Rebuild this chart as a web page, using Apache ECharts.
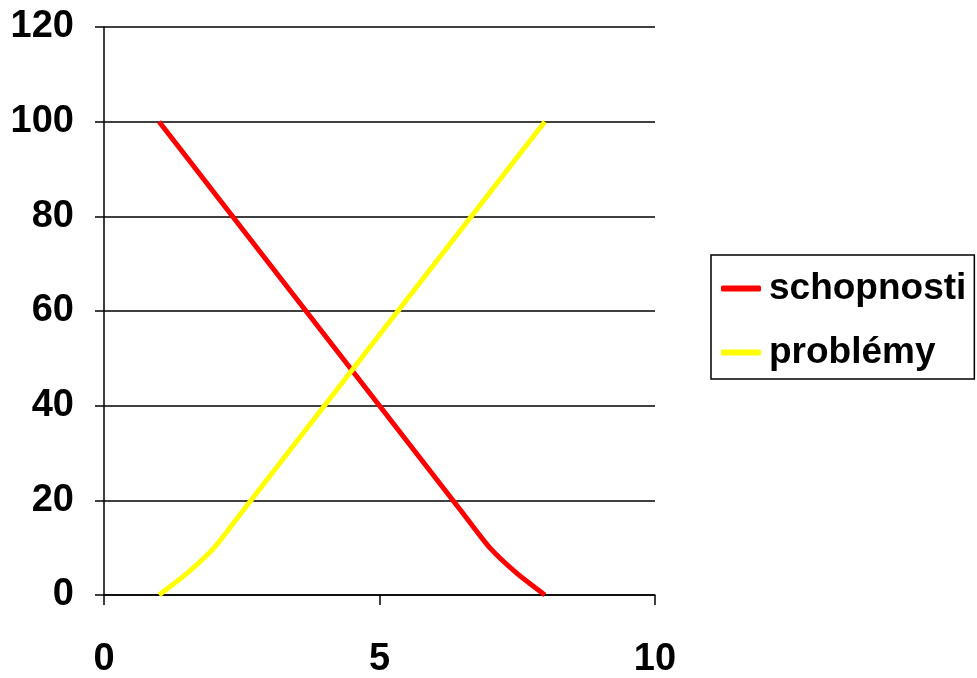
<!DOCTYPE html>
<html>
<head>
<meta charset="utf-8">
<script src="https://cdn.jsdelivr.net/npm/echarts@6/dist/echarts.min.js"></script>
<style>
html,body{margin:0;padding:0;background:#fff;}
#chart{width:977px;height:678px;}
</style>
</head>
<body>
<div id="chart"></div>
<script>
var seriesNames = ['schopnosti', 'problémy'];
var schopnostiX = [1, 2, 3, 4, 5, 6, 6.5, 7, 7.5, 8];
var schopnostiY = [100, 85, 70, 55, 40, 25, 17.5, 10, 4.5, 0];
var problemyX = [1, 1.5, 2, 2.5, 3, 4, 5, 6, 7, 8];
var problemyY = [0, 4.5, 10, 17.5, 25, 40, 55, 70, 85, 100];
var xTicks = [0, 5, 10];
var yTicks = [0, 20, 40, 60, 80, 100, 120];

function pairs(xs, ys) { return xs.map(function (x, i) { return [x, ys[i]]; }); }

var font = '"Liberation Sans", Arial, sans-serif';
var chart = echarts.init(document.getElementById('chart'));
chart.setOption({
  backgroundColor: '#ffffff',
  animation: false,
  grid: { left: 104, right: 322, top: 27, bottom: 83, containLabel: false, outerBoundsMode: 'none' },
  legend: {
    orient: 'vertical',
    left: 711, top: 255,
    padding: [15, 8, 8, 10],
    itemGap: 27,
    itemWidth: 40, itemHeight: 6,
    icon: 'roundRect',
    borderColor: '#000', borderWidth: 1.5,
    textStyle: { fontFamily: font, fontWeight: 'bold', fontSize: 37, color: '#000', padding: [0, 0, 0, 3] },
    data: seriesNames
  },
  xAxis: {
    type: 'value', min: xTicks[0], max: xTicks[xTicks.length - 1], interval: 5,
    axisLine: { show: true, onZero: false, lineStyle: { color: '#000', width: 1.5 } },
    axisTick: { show: true, length: 10, lineStyle: { color: '#000', width: 1.5 } },
    splitLine: { show: false },
    axisLabel: { margin: 46, fontFamily: font, fontWeight: 'bold', fontSize: 38, color: '#000' }
  },
  yAxis: {
    type: 'value', min: yTicks[0], max: yTicks[yTicks.length - 1], interval: 20,
    axisLine: { show: true, lineStyle: { color: '#000', width: 1.5 } },
    axisTick: { show: true, length: 9, lineStyle: { color: '#000', width: 1.5 } },
    splitLine: { show: true, lineStyle: { color: '#000', width: 1.5 } },
    axisLabel: { margin: 30, fontFamily: font, fontWeight: 'bold', fontSize: 38, color: '#000' }
  },
  series: [
    { name: seriesNames[0], type: 'line', data: pairs(schopnostiX, schopnostiY), symbol: 'none', smooth: 0.2,
      lineStyle: { color: '#ff0000', width: 5 }, itemStyle: { color: '#ff0000' } },
    { name: seriesNames[1], type: 'line', data: pairs(problemyX, problemyY), symbol: 'none', smooth: 0.2,
      lineStyle: { color: '#ffff00', width: 5 }, itemStyle: { color: '#ffff00' } }
  ]
});
</script>
</body>
</html>
